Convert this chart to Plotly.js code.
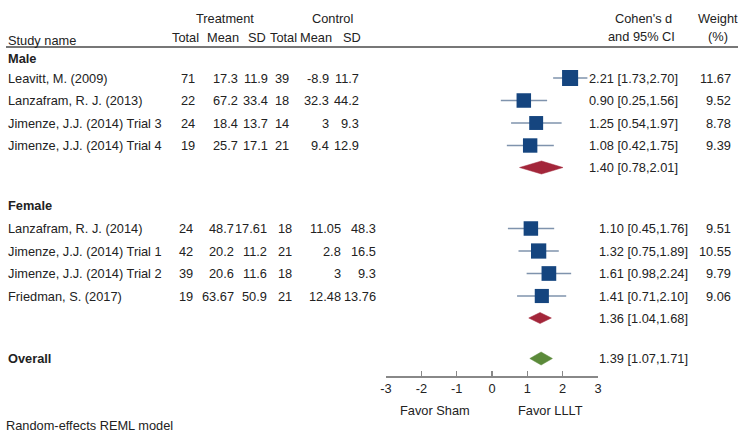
<!DOCTYPE html>
<html>
<head>
<meta charset="utf-8">
<script src="https://cdn.plot.ly/plotly-3.0.1.min.js"></script>
<style>html,body{margin:0;padding:0;background:#fff}#chart{width:741px;height:437px}</style>
</head>
<body>
<div id="chart"></div>
<script>
// ---------- data ----------
const studies = ["Leavitt, M. (2009)", "Lanzafram, R. J. (2013)", "Jimenze, J.J. (2014) Trial 3", "Jimenze, J.J. (2014) Trial 4",
                 "Lanzafram, R. J. (2014)", "Jimenze, J.J. (2014) Trial 1", "Jimenze, J.J. (2014) Trial 2", "Friedman, S. (2017)"];
const groupOf = ["Male", "Male", "Male", "Male", "Female", "Female", "Female", "Female"];
const tTotal = [71, 22, 24, 19, 24, 42, 39, 19];
const tMean  = [17.3, 67.2, 18.4, 25.7, 48.7, 20.2, 20.6, 63.67];
const tSD    = [11.9, 33.4, 13.7, 17.1, 17.61, 11.2, 11.6, 50.9];
const cTotal = [39, 18, 14, 21, 18, 21, 18, 21];
const cMean  = [-8.9, 32.3, 3, 9.4, 11.05, 2.8, 3, 12.48];
const cSD    = [11.7, 44.2, 9.3, 12.9, 48.3, 16.5, 9.3, 13.76];
const cohenD = [2.21, 0.90, 1.25, 1.08, 1.10, 1.32, 1.61, 1.41];
const ciLow  = [1.73, 0.25, 0.54, 0.42, 0.45, 0.75, 0.98, 0.71];
const ciHigh = [2.70, 1.56, 1.97, 1.75, 1.76, 1.89, 2.24, 2.10];
const weight = [11.67, 9.52, 8.78, 9.39, 9.51, 10.55, 9.79, 9.06];

const summaryNames = ["Male", "Female", "Overall"];
const summaryD     = [1.40, 1.36, 1.39];
const summaryLow   = [0.78, 1.04, 1.07];
const summaryHigh  = [2.01, 1.68, 1.71];

const xTicks = [-3, -2, -1, 0, 1, 2, 3];

// ---------- layout positions (pixels) ----------
const W = 741, H = 437;
const studyRowY   = [78, 100.5, 123, 145.5, 228.5, 251, 273.5, 296];
const summaryRowY = [167.5, 318, 358.5];
const groupLabelY = [58, 205, 358.5];
const summaryColors = ["#a3263a", "#a3263a", "#5b8a3a"];
const diamondHalf = [6.5, 5.5, 6.5];
// column right edges per group
const cols = {
  Male:   {tTotal: 197, tMean: 240, tSD: 270, cTotal: 291, cMean: 331, cSD: 361, ci: 587},
  Female: {tTotal: 195, tMean: 236, tSD: 269, cTotal: 294, cMean: 343, cSD: 378, ci: 597}
};
const weightRight = 733;
const summaryCiX = [587, 597, 597];

const font = "Liberation Sans, Arial, sans-serif";
const txtColor = "#222";
const fs = 12.8;

const ann = [];
function txt(x, y, text, anchor, opts) {
  ann.push(Object.assign({
    xref: "paper", yref: "y", x: x / W, y: y, text: text, showarrow: false,
    xanchor: anchor || "left", yanchor: "middle",
    font: {family: font, size: fs, color: txtColor}
  }, opts || {}));
}
// headers
txt(225, 18, "Treatment", "center");
txt(332, 18, "Control", "center");
txt(6, 40, "Study name", "left");
txt(201, 37, "Total", "right");
txt(241, 37, "Mean", "right");
txt(268, 37, "SD", "right");
txt(299, 37, "Total", "right");
txt(334, 37, "Mean", "right");
txt(363, 37, "SD", "right");
txt(643, 18, "Cohen's d", "center");
txt(641, 36, "and 95% CI", "center");
txt(718, 18, "Weight", "center");
txt(718, 36, "(%)", "center");
// group labels
for (let g = 0; g < summaryNames.length; g++) {
  txt(6, groupLabelY[g], "<b>" + summaryNames[g] + "</b>", "left");
}
// study rows
for (let i = 0; i < studies.length; i++) {
  const c = cols[groupOf[i]], y = studyRowY[i];
  txt(6, y, studies[i], "left");
  txt(c.tTotal, y, String(tTotal[i]), "right");
  txt(c.tMean, y, String(tMean[i]), "right");
  txt(c.tSD, y, String(tSD[i]), "right");
  txt(c.cTotal, y, String(cTotal[i]), "right");
  txt(c.cMean, y, String(cMean[i]), "right");
  txt(c.cSD, y, String(cSD[i]), "right");
  txt(c.ci, y, cohenD[i].toFixed(2) + " [" + ciLow[i].toFixed(2) + "," + ciHigh[i].toFixed(2) + "]", "left");
  txt(weightRight, y, weight[i].toFixed(2), "right");
}
for (let g = 0; g < summaryNames.length; g++) {
  txt(summaryCiX[g], summaryRowY[g], summaryD[g].toFixed(2) + " [" + summaryLow[g].toFixed(2) + "," + summaryHigh[g].toFixed(2) + "]", "left");
}
// axis captions
ann.push({xref: "x", yref: "y", x: -1.62, y: 410, text: "Favor Sham", showarrow: false, xanchor: "center", yanchor: "middle", font: {family: font, size: fs, color: txtColor}});
ann.push({xref: "x", yref: "y", x: 1.65, y: 410, text: "Favor LLLT", showarrow: false, xanchor: "center", yanchor: "middle", font: {family: font, size: fs, color: txtColor}});
txt(4, 425, "Random-effects REML model", "left");

// ---------- traces ----------
const traces = [];
// CI lines
const lx = [], ly = [];
for (let i = 0; i < studies.length; i++) {
  lx.push(ciLow[i], ciHigh[i], null);
  ly.push(studyRowY[i], studyRowY[i], null);
}
traces.push({type: "scatter", mode: "lines", x: lx, y: ly, line: {color: "#7f93ad", width: 1.6}, hoverinfo: "skip"});
// squares
traces.push({type: "scatter", mode: "markers", x: cohenD, y: studyRowY,
  marker: {symbol: "square", size: weight.map(w => 4.7 * Math.sqrt(w)), color: "#15457f", opacity: 1, line: {width: 0}}, hoverinfo: "skip"});
// diamonds
for (let g = 0; g < summaryNames.length; g++) {
  const y = summaryRowY[g], h = diamondHalf[g];
  traces.push({type: "scatter", mode: "lines", fill: "toself",
    x: [summaryLow[g], summaryD[g], summaryHigh[g], summaryD[g], summaryLow[g]],
    y: [y, y - h, y, y + h, y],
    line: {color: summaryColors[g], width: 0.5}, fillcolor: summaryColors[g], hoverinfo: "skip"});
}

const layout = {
  width: W, height: H,
  margin: {l: 0, r: 0, t: 0, b: 0},
  paper_bgcolor: "#fff", plot_bgcolor: "rgba(0,0,0,0)",
  showlegend: false,
  xaxis: {
    domain: [386 / W, 598 / W], range: [-3, 3], anchor: "free", position: 1 - 376 / H,
    tickvals: xTicks, ticktext: xTicks.map(String),
    showgrid: false, zeroline: false, showline: true, linecolor: "#888", linewidth: 1.5,
    ticks: "inside", ticklen: 5, tickcolor: "#888", tickwidth: 1.5,
    tickfont: {family: font, size: fs, color: txtColor}, fixedrange: true
  },
  yaxis: {domain: [0, 1], range: [H, 0], visible: false, fixedrange: true},
  shapes: [{type: "line", xref: "paper", yref: "y", x0: 6 / W, x1: 738 / W, y0: 47, y1: 47, line: {color: "#777", width: 2}}],
  annotations: ann
};

Plotly.newPlot("chart", traces, layout, {staticPlot: true, displayModeBar: false});
</script>
</body>
</html>
